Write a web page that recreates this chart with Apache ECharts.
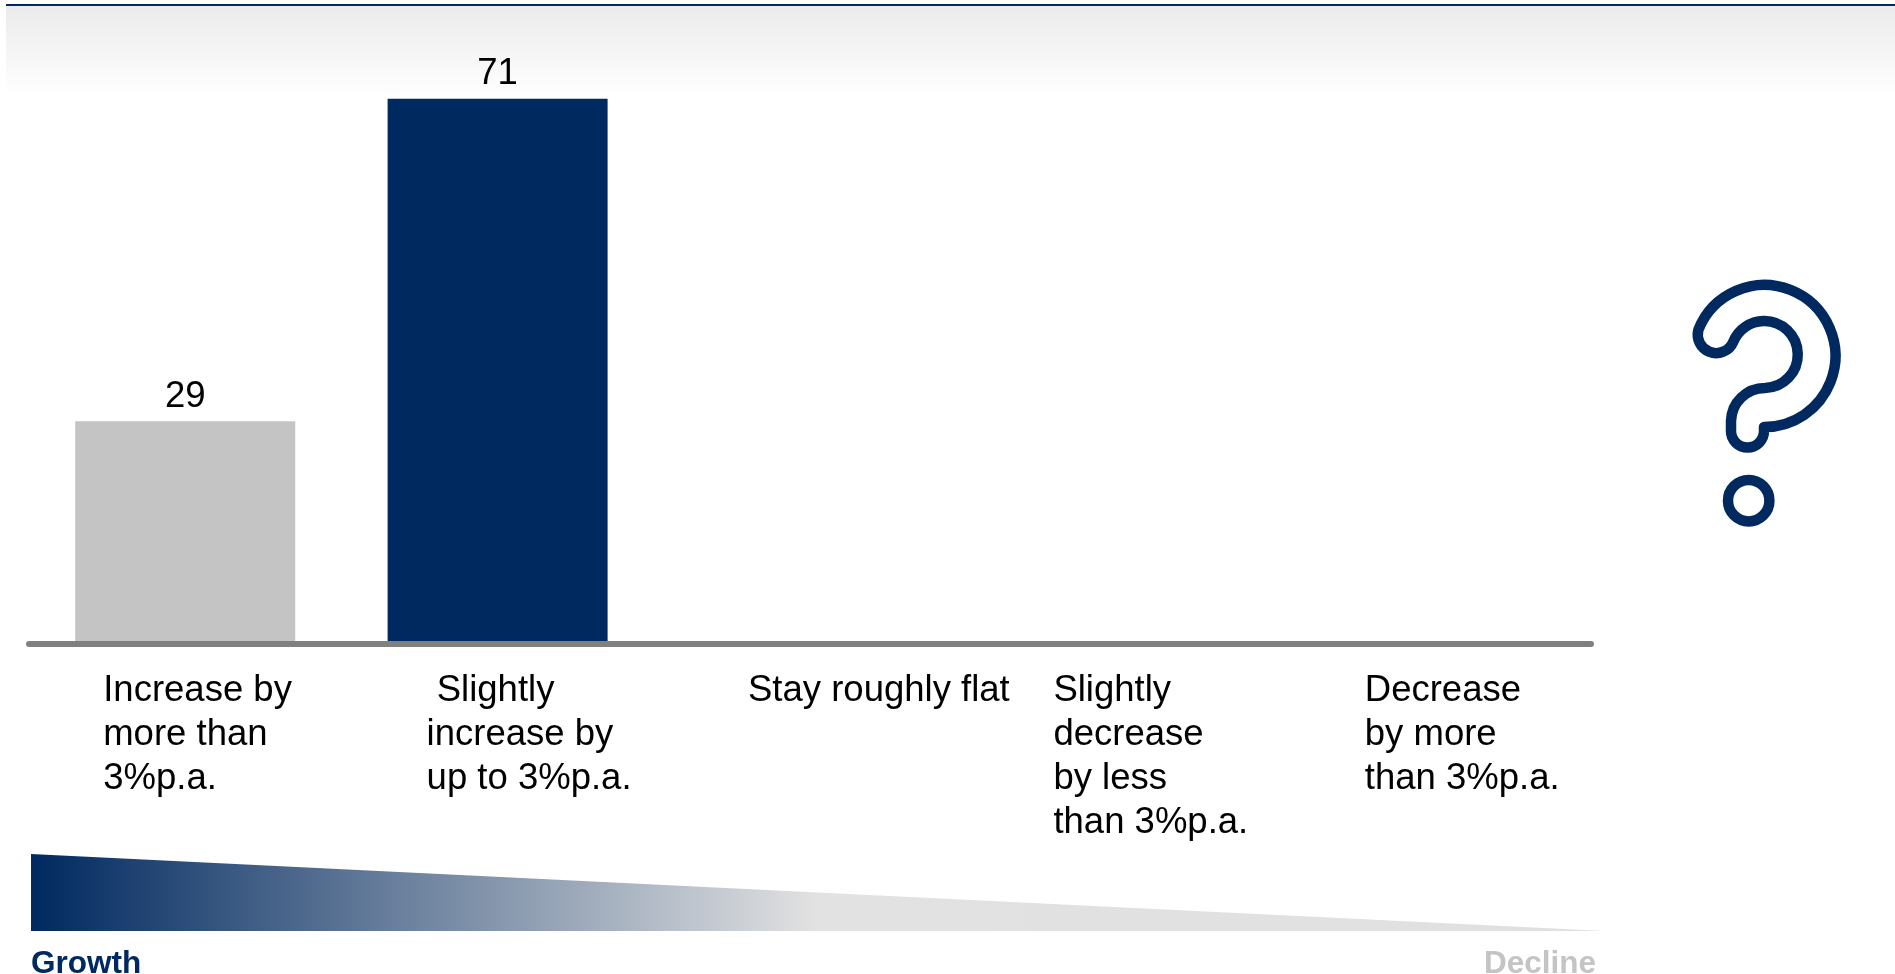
<!DOCTYPE html>
<html>
<head>
<meta charset="utf-8">
<style>html,body{margin:0;padding:0;background:#fff}#chart{width:1895px;height:974px}</style>
<script src="https://cdn.jsdelivr.net/npm/echarts@6/dist/echarts.min.js"></script>
</head>
<body>
<div id="chart"></div>
<script>
// Expected development answers and share of respondents (%)
const categories = [
  'Increase by\nmore than\n3%p.a.',
  '\u00a0Slightly\nincrease by\nup to 3%p.a.',
  'Stay roughly flat',
  'Slightly\ndecrease\nby less\nthan 3%p.a.',
  'Decrease\nby more\nthan 3%p.a.'
];
const shares = [29, 71, 0, 0, 0];
const barColors = ['#c4c4c4', '#002960', '#002960', '#002960', '#002960'];
// Half-width of each label block; lines are left-aligned inside the block
const labelHalfWidths = [82, 71, 62, 69, 70];

const NAVY = '#002960';
const FONT = '"Liberation Sans", Arial, Helvetica, sans-serif';

// Outline of the question mark icon
echarts.graphic.registerShape('questionHook', echarts.graphic.extendPath(
  'M1698.3 330 A71 71 0 1 1 1764 427 L1764 431 A16.5 16.5 0 1 1 1731 431 L1731 421 A34 34 0 0 1 1765 388 A33.5 33.5 0 1 0 1733.3 341.7 A18.5 18.5 0 0 1 1698.3 330 Z',
  {}
));

const rich = {};
labelHalfWidths.forEach((w, i) => {
  rich['c' + i] = {
    width: w * 2, align: 'left', fontSize: 36.5, lineHeight: 44,
    fontFamily: FONT, color: '#000'
  };
});

const chart = echarts.init(document.getElementById('chart'), null, { renderer: 'canvas' });
chart.setOption({
  animation: false,
  backgroundColor: '#fff',
  grid: { left: 29, width: 1562, top: 29.6, height: 614.4 },
  xAxis: {
    type: 'category',
    data: categories,
    z: 3,
    axisLine: { lineStyle: { color: '#808080', width: 6, cap: 'round' } },
    axisTick: { show: false },
    axisLabel: {
      interval: 0,
      margin: 25,
      verticalAlign: 'top',
      hideOverlap: false,
      formatter: (value, index) =>
        value.split('\n').map(line => `{c${index}|${line}}`).join('\n'),
      rich
    }
  },
  yAxis: { type: 'value', min: 0, max: 80, show: false, splitLine: { show: false } },
  series: [{
    type: 'bar',
    barWidth: 220,
    data: shares.map((v, i) => ({ value: v, itemStyle: { color: barColors[i] } })),
    label: {
      show: true,
      position: 'top',
      distance: 6,
      fontSize: 36.5,
      fontFamily: FONT,
      color: '#000',
      formatter: p => (p.value ? String(p.value) : '')
    }
  }],
  graphic: [
    // Header strip
    { type: 'rect', z: 0, shape: { x: 6, y: 6, width: 1889, height: 90 },
      style: { fill: new echarts.graphic.LinearGradient(0, 0, 0, 1, [
        { offset: 0, color: '#ebebeb' }, { offset: 1, color: '#ffffff' }
      ]) } },
    { type: 'rect', z: 1, shape: { x: 6, y: 4, width: 1889, height: 2 }, style: { fill: NAVY } },
    // Growth-to-decline wedge
    { type: 'polygon', z: 1,
      shape: { points: [[31, 854], [1605, 931], [31, 931]] },
      style: { fill: new echarts.graphic.LinearGradient(0, 0, 1, 0, [
        { offset: 0, color: NAVY },
        { offset: 0.5, color: '#e2e2e2' },
        { offset: 1, color: '#e0e0e0' }
      ]) } },
    { type: 'text', z: 2, style: { x: 31, y: 980, text: 'Growth', fill: NAVY,
      font: 'bold 31.5px ' + FONT, textAlign: 'left', textVerticalAlign: 'bottom' } },
    { type: 'text', z: 2, style: { x: 1596, y: 980, text: 'Decline', fill: '#c4c4c4',
      font: 'bold 31.5px ' + FONT, textAlign: 'right', textVerticalAlign: 'bottom' } },
    // Question mark icon
    { type: 'questionHook', z: 2,
      style: { fill: 'none', stroke: NAVY, lineWidth: 10.5, lineJoin: 'round' } },
    { type: 'circle', z: 2, shape: { cx: 1748.7, cy: 500.7, r: 20.7 },
      style: { fill: 'none', stroke: NAVY, lineWidth: 10.5 } }
  ]
});
</script>
</body>
</html>
